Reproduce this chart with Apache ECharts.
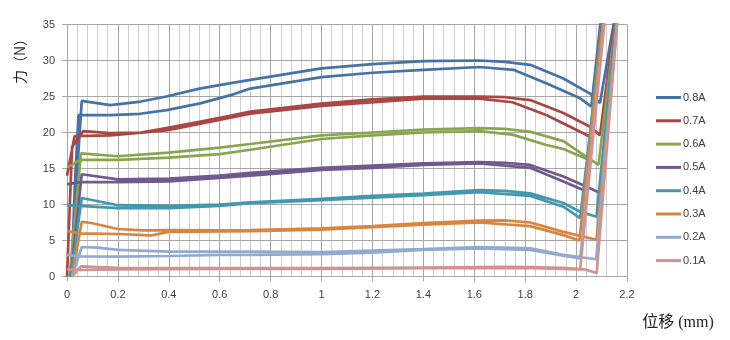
<!DOCTYPE html>
<html><head><meta charset="utf-8">
<script src="https://cdn.jsdelivr.net/npm/echarts@6/dist/echarts.min.js"></script>
<style>html,body{margin:0;padding:0;background:#fff}#c{width:730px;height:340px}</style>
</head><body><div id="c"></div>
<script>
const seriesNames = ['0.8A','0.7A','0.6A','0.5A','0.4A','0.3A','0.2A','0.1A'];
const colors = ['#4572A7','#AA4643','#89A54E','#71588F','#4198AF','#DB843D','#93A9CF','#D19392'];
const xTicks = [0,0.2,0.4,0.6,0.8,1,1.2,1.4,1.6,1.8,2,2.2];
const yTicks = [0,5,10,15,20,25,30,35];

// each series: outbound (upper) curve then return (lower) curve, [displacement mm, force N]
const s08Upper = [[0.02,0],[0.035,12],[0.058,24.4],[0.17,23.8],[0.29,24.3],[0.39,25.0],[0.52,26.1],[0.65,26.9],[0.72,27.3],[1.0,28.9],[1.2,29.5],[1.4,29.9],[1.62,30.0],[1.72,29.8],[1.82,29.4],[1.95,27.5],[2.055,25.4],[2.094,24.1],[2.152,36]];
const s08Lower = [[2.098,36],[2.06,23.6],[2.016,24.75],[1.885,26.8],[1.754,28.7],[1.62,29.1],[1.4,28.7],[1.2,28.3],[1.0,27.7],[0.72,26.1],[0.654,25.3],[0.523,24.05],[0.392,23.1],[0.287,22.6],[0.169,22.4],[0.045,22.4],[0.03,12],[0.018,0]];
const s07Upper = [[0.0,0],[0.02,18],[0.064,20.2],[0.17,19.9],[0.29,20.0],[0.39,20.6],[0.52,21.5],[0.65,22.4],[0.72,22.9],[1.0,24.0],[1.2,24.6],[1.4,25.0],[1.62,25.0],[1.72,24.9],[1.82,24.5],[1.95,22.7],[2.055,20.8],[2.094,19.6],[2.153,36]];
const s07Lower = [[2.103,36],[2.055,19.4],[2.016,20.1],[1.885,22.4],[1.75,24.2],[1.62,24.7],[1.4,24.7],[1.0,23.7],[0.72,22.6],[0.52,21.2],[0.39,20.3],[0.17,19.6],[0.03,19.5],[0.0,14]];
const s06Upper = [[0.01,0],[0.055,17.1],[0.2,16.7],[0.4,17.2],[0.6,17.9],[0.72,18.4],[1.0,19.6],[1.2,20.0],[1.4,20.4],[1.62,20.6],[1.72,20.5],[1.82,20.1],[1.95,18.8],[2.016,17.2],[2.088,15.5],[2.158,36]];
const s06Lower = [[2.103,36],[2.045,16.3],[1.95,17.7],[1.88,18.3],[1.75,19.7],[1.62,20.2],[1.4,20.0],[1.2,19.6],[1.0,19.1],[0.72,17.6],[0.6,17.0],[0.4,16.5],[0.2,16.2],[0.05,16.2],[0.02,15.5],[0.0,15.2]];
const s05Upper = [[0.015,0],[0.058,14.2],[0.2,13.5],[0.4,13.6],[0.6,14.0],[0.72,14.4],[1.0,15.1],[1.2,15.4],[1.4,15.7],[1.62,15.9],[1.72,15.8],[1.82,15.5],[1.95,13.9],[2.04,12.5],[2.094,11.6],[2.158,36]];
const s05Lower = [[2.104,36],[2.042,11.8],[1.95,13.2],[1.82,15.1],[1.62,15.7],[1.4,15.5],[1.2,15.1],[1.0,14.8],[0.72,14.0],[0.6,13.7],[0.4,13.2],[0.2,13.1],[0.05,13.1],[0.0,12.8]];
const s04Upper = [[0.015,0],[0.058,10.9],[0.2,9.9],[0.4,9.8],[0.6,10.0],[0.72,10.3],[1.0,10.8],[1.2,11.2],[1.4,11.5],[1.62,12.0],[1.72,11.9],[1.82,11.55],[1.95,10.2],[2.016,9.0],[2.08,8.3],[2.158,36]];
const s04Lower = [[2.108,36],[2.016,8.1],[1.95,9.7],[1.82,11.2],[1.62,11.7],[1.4,11.3],[1.0,10.6],[0.72,10.2],[0.6,9.8],[0.4,9.5],[0.2,9.5],[0.05,9.8],[0.0,9.9]];
const s03Upper = [[0.02,0],[0.058,7.6],[0.1,7.4],[0.2,6.6],[0.3,6.4],[0.4,6.45],[0.6,6.4],[0.72,6.45],[1.0,6.7],[1.2,7.0],[1.4,7.4],[1.62,7.75],[1.72,7.8],[1.82,7.5],[1.95,6.2],[2.08,5.1],[2.163,36]];
const s03Lower = [[2.108,36],[2.013,5.0],[1.95,5.75],[1.82,7.0],[1.62,7.5],[1.4,7.2],[1.0,6.5],[0.72,6.3],[0.4,6.2],[0.33,5.7],[0.2,5.9],[0.05,6.0],[0.0,6.3]];
const s02Upper = [[0.02,0],[0.058,4.1],[0.12,4.0],[0.2,3.7],[0.4,3.45],[0.6,3.45],[0.72,3.45],[1.0,3.4],[1.2,3.6],[1.4,3.8],[1.62,4.1],[1.72,4.0],[1.82,3.9],[1.95,3.0],[2.079,2.4],[2.163,36]];
const s02Lower = [[2.113,36],[2.016,2.5],[1.95,2.9],[1.82,3.7],[1.62,3.9],[1.4,3.7],[1.2,3.3],[1.0,3.1],[0.72,3.0],[0.6,3.0],[0.4,2.85],[0.2,2.75],[0.05,2.8],[0.0,3.0]];
const s01Upper = [[0.02,0],[0.055,1.4],[0.2,1.2],[0.6,1.15],[1.0,1.15],[1.4,1.25],[1.72,1.35],[1.82,1.3],[1.95,1.2],[2.03,1.0],[2.081,0.5],[2.163,36]];
const s01Lower = [[2.113,36],[2.016,1.0],[1.8,1.2],[1.4,1.15],[1.0,1.05],[0.6,1.05],[0.2,1.0],[0.05,0.9],[0.0,1.0]];

const curves = [[s08Upper,s08Lower],[s07Upper,s07Lower],[s06Upper,s06Lower],[s05Upper,s05Lower],[s04Upper,s04Lower],[s03Upper,s03Lower],[s02Upper,s02Lower],[s01Upper,s01Lower]];

const chart = echarts.init(document.getElementById('c'), null, {renderer:'canvas'});
const fontLbl = "'Liberation Sans', Arial, sans-serif";
chart.setOption({
  animation:false,
  backgroundColor:'#fff',
  color: colors,
  grid:{left:67,right:103,top:24.5,bottom:63.5,containLabel:false},
  xAxis:[{type:'value',min:0,max:2.2,interval:0.2,z:1,
    axisLine:{show:true,onZero:false,lineStyle:{color:'#a6a6a6',width:1}},
    axisTick:{show:true,length:5,lineStyle:{color:'#a6a6a6'}},
    splitLine:{show:true,lineStyle:{color:'#a6a6a6',width:1}},
    axisLabel:{color:'#404040',fontSize:11,fontFamily:fontLbl,margin:13,
      formatter:v=>{const t=xTicks.find(a=>Math.abs(a-v)<1e-6);return t===undefined?'':String(t);}}
  },{type:'value',min:0,max:2.2,interval:0.04,z:0,position:'bottom',
    axisLine:{show:false},axisTick:{show:false},axisLabel:{show:false},
    splitLine:{show:true,lineStyle:{color:'#d0d0d0',width:1}}
  }],
  yAxis:{type:'value',min:0,max:35,interval:5,z:1,
    axisLine:{show:true,lineStyle:{color:'#a6a6a6',width:1}},
    axisTick:{show:true,length:5,lineStyle:{color:'#a6a6a6'}},
    splitLine:{show:true,lineStyle:{color:'#a6a6a6',width:1}},
    axisLabel:{color:'#404040',fontSize:11,fontFamily:fontLbl,margin:12,
      formatter:v=>{const t=yTicks.find(a=>Math.abs(a-v)<1e-6);return t===undefined?'':String(t);}}
  },
  legend:{orient:'vertical',left:651,top:87,itemWidth:25,itemHeight:14,itemGap:12.3,
    icon:'path://M0,0 L25,0 L25,3 L0,3 Z',
    textStyle:{color:'#404040',fontSize:11,fontFamily:fontLbl,padding:[0,0,0,-3]},
    data:seriesNames},
  graphic:[
    {type:'text',x:20,y:58,rotation:Math.PI/2,
      style:{text:'力（N）',font:"14px 'Noto Sans CJK SC', sans-serif",fill:'#222',align:'center',verticalAlign:'middle'}},
    {type:'text',x:678,y:323,
      style:{text:'位移 (mm)',font:"16px 'Liberation Serif', 'Noto Sans CJK SC', serif",fill:'#222',align:'center',verticalAlign:'middle'}}
  ],
  series: seriesNames.map((n,i)=>({
    name:n,type:'line',symbol:'none',clip:true,xAxisIndex:0,
    lineStyle:{width:2.7,color:colors[i]},
    itemStyle:{color:colors[i]},
    data: curves[i][0].concat(curves[i][1])
  }))
});
</script></body></html>
